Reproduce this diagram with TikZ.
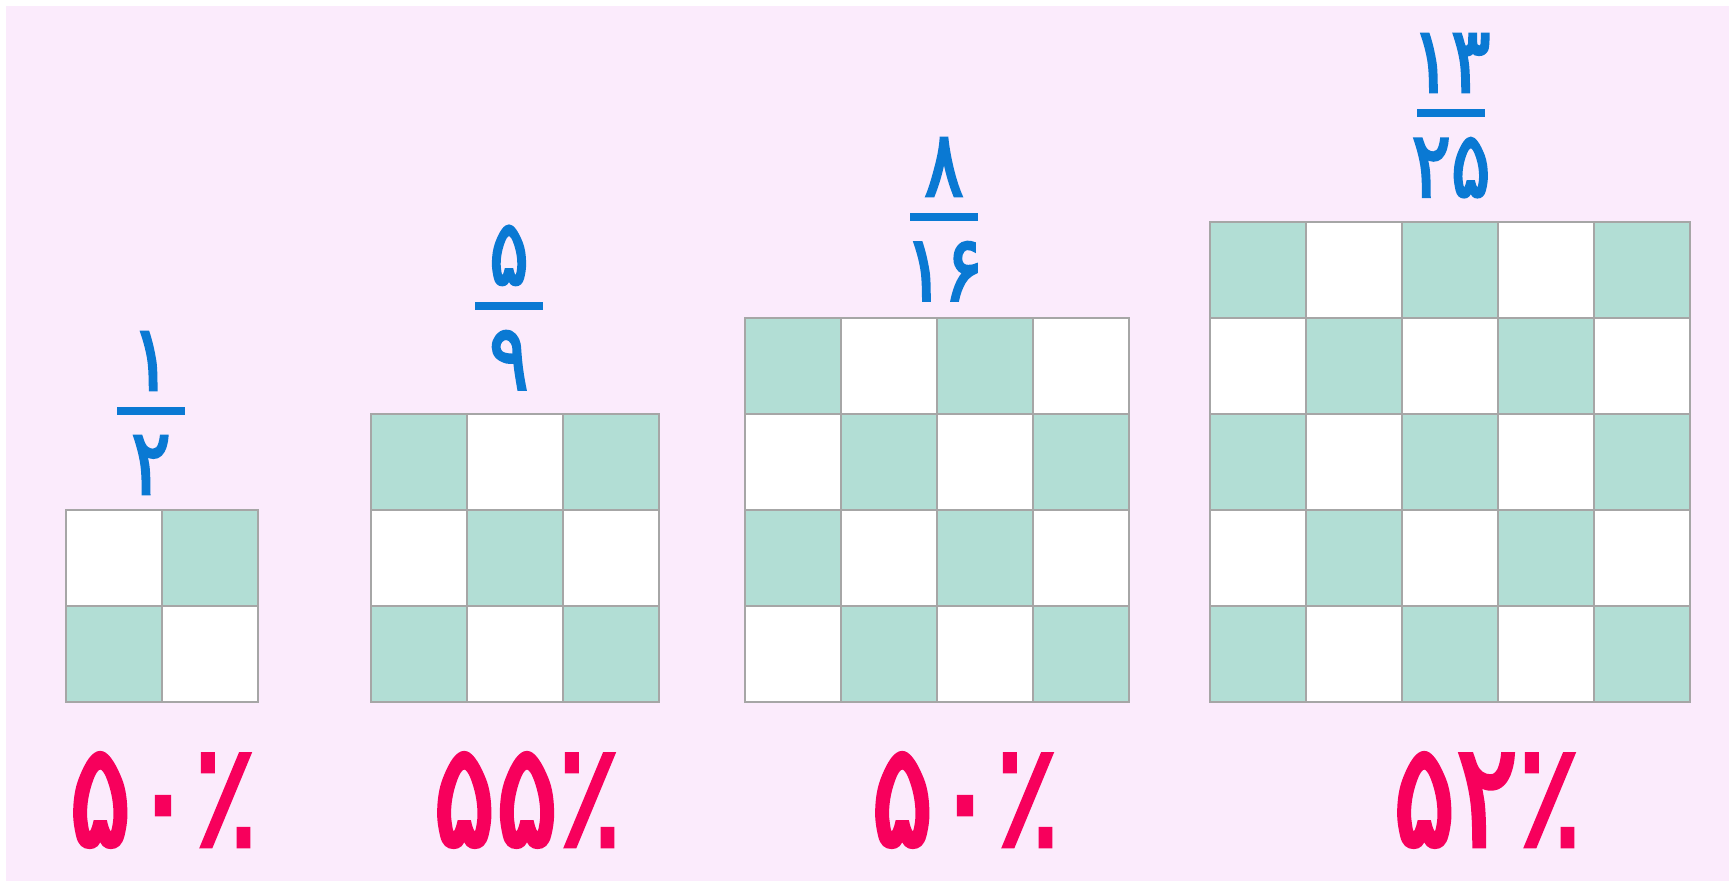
\documentclass[tikz,border=0pt]{standalone}
\usepackage{fontspec}
\usepackage{xcolor}
\usepackage{tikz}
\usetikzlibrary{positioning}
\newfontfamily\fafont[Script=Arabic, FakeBold=2.5, FakeStretch=0.8]{DejaVu Sans}

\definecolor{bgpink}{HTML}{FBEBFC}
\definecolor{cellgreen}{HTML}{B2DED5}
\definecolor{cellgray}{HTML}{A6A6A6}
\definecolor{fracblue}{HTML}{0A79D3}
\definecolor{pctred}{HTML}{F7005C}

\tikzset{
    cell/.style={draw=cellgray, line width=1pt},
    fracbar/.style={fill=fracblue, minimum width=34pt, minimum height=4pt, inner sep=0pt},
    fracdigit/.style={text=fracblue, inner sep=0pt, font=\fafont\fontsize{46}{46}\selectfont},
    pct/.style={text=pctred, inner sep=0pt, font=\fafont\fontsize{73}{73}\selectfont}
}

\begin{document}
\begin{tikzpicture}[x=0.5pt, y=-0.5pt]
    \useasboundingbox (0,0) rectangle (1729,881);
    \fill[white] (0,0) rectangle (1729,881);
    \fill[bgpink] (6,6) rectangle (1729,881);

    % checkerboards: left edge / size / parity
    \foreach \gx/\n/\odd in {66/2/1, 371/3/0, 745/4/0, 1210/5/0} {
        \foreach \i in {1,...,\n} {
            \foreach \j in {1,...,\n} {
                \pgfmathtruncatemacro{\k}{mod(\i+\j+\odd,2)}
                \ifnum\k=0 \def\shade{cellgreen}\else \def\shade{white}\fi
                \draw[cell, fill=\shade] ({\gx+96*(\i-1)}, {702-96*(\n-\j+1)}) rectangle ++(96,96);
            }
        }
    }

    % fractions
    \node[fracbar] (b1) at (151,411) {};
    \node[fracdigit, above=8pt of b1] (n1) {۱};
    \node[fracdigit, below=10pt of b1] (d1) {۲};

    \node[fracbar] (b2) at (509,306) {};
    \node[fracdigit, above=8pt of b2] (n2) {۵};
    \node[fracdigit, below=10pt of b2] (d2) {۹};

    \node[fracbar] (b3) at (944,217) {};
    \node[fracdigit, above=8pt of b3] (n3) {۸};
    \node[fracdigit, below=10pt of b3] (d3) {۱۶};

    \node[fracbar] (b4) at (1451,113) {};
    \node[fracdigit, above=8pt of b4] (n4) {۱۳};
    \node[fracdigit, below=10pt of b4] (d4) {۲۵};

    % percentages
    \node[pct] (p1) at (163,800) {۵۰٪};
    \node[pct] (p2) at (527,800) {۵۵٪};
    \node[pct] (p3) at (965,800) {۵۰٪};
    \node[pct] (p4) at (1487,800) {۵۲٪};
\end{tikzpicture}
\end{document}
